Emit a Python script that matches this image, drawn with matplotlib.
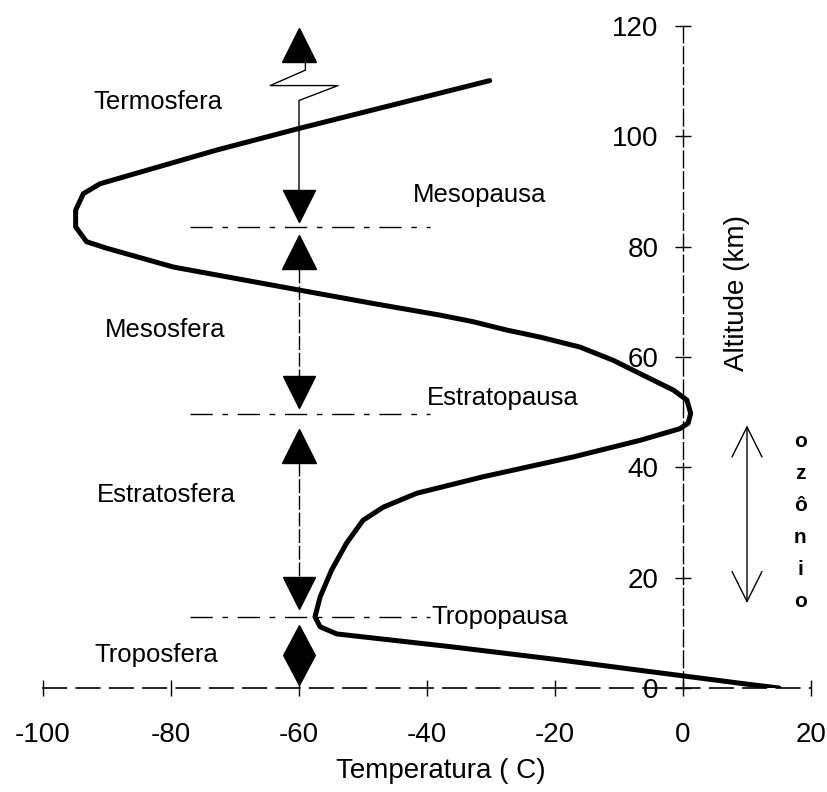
import numpy as np
import matplotlib
matplotlib.use("Agg")
import matplotlib.pyplot as plt

plt.rcParams['font.family'] = ['Liberation Sans', 'DejaVu Sans']

# ---- data: temperature profile (T in C, altitude in km) ----
temp_c = [15, 10, 0, -20, -36.4, -54.1, -56.7, -57.5, -56.7, -54.9, -52.6, -50.0,
          -46.8, -41.6, -31.2, -17.1, -6.7, -0.5, 0.8, 1.2, 0.6, -1.5, -5.7, -10.9,
          -16.1, -22.3, -27.6, -32.8, -38.0, -48.4, -59.8, -79.6, -90.0, -93.2,
          -94.9, -94.9, -93.7, -91.1, -72.9, -60.1, -30.2]
alt_km = [0, 0.7, 2.2, 5.2, 7.5, 9.8, 11.1, 12.9, 16.5, 21.4, 26.2, 30.4,
          32.8, 35.3, 38.3, 41.9, 44.9, 47.0, 48.0, 49.8, 52.2, 54.0, 56.4, 59.4,
          61.8, 63.6, 64.9, 66.4, 67.6, 69.7, 72.1, 76.3, 79.7, 80.9,
          83.6, 86.6, 89.6, 91.4, 97.5, 101.4, 110.1]

layer_names = ["Termosfera", "Mesosfera", "Estratosfera", "Troposfera"]
layer_label_alt = [106.2, 64.9, 35.0, 6.0]
pause_names = ["Mesopausa", "Estratopausa", "Tropopausa"]
pause_alt = [83.5, 49.6, 12.9]
pause_label_alt = [89.3, 52.5, 12.9]
ozone_bottom_top = [15.4, 47.6]
ozone_word = "ozônio"

x_ticks = [-100, -80, -60, -40, -20, 0, 20]
y_ticks = [0, 20, 40, 60, 80, 100, 120]

# marker altitudes on the layer-arrow at T = -60
arrow_x = -60
up_tri_alt = [116.5, 79.0, 43.8]
down_tri_alt = [87.3, 53.6, 17.2]
diamond_alt = 6.0

# ---- figure ----
fig = plt.figure(figsize=(8.28, 7.92), dpi=100)
ax = fig.add_axes([43 / 828, 104 / 792, 768 / 828, 662 / 792])
ax.set_xlim(-100, 20)
ax.set_ylim(0, 120)

for s in ['top', 'right']:
    ax.spines[s].set_visible(False)
ax.spines['left'].set_position(('data', 0))
ax.spines['left'].set_linestyle((0, (12, 3)))
ax.spines['left'].set_linewidth(1.0)
ax.spines['bottom'].set_linestyle((0, (14, 6)))
ax.spines['bottom'].set_linewidth(1.2)

ax.set_xticks(x_ticks)
ax.set_yticks(y_ticks)
ax.set_xticklabels([str(v) for v in x_ticks])
ax.set_yticklabels([str(v) for v in y_ticks])
ax.tick_params(axis='x', direction='inout', length=11, width=1, pad=19, labelsize=20)
ax.tick_params(axis='y', direction='inout', length=11, width=1, pad=12, labelsize=20)

# temperature profile
ax.plot(temp_c, alt_km, color='black', lw=3.6, solid_joinstyle='round',
        solid_capstyle='round', zorder=5)

# pause dashed lines
for za in pause_alt:
    ax.plot([-77, -39.5], [za, za], color='black', lw=1.0,
            dashes=(16, 7, 4, 7), zorder=2)

# vertical dashed arrow structure
ax.plot([-59, -59, -64.5, -53.9, -60, -60],
        [113.5, 112, 109.2, 109.2, 106.5, 90.1], color='black', lw=1.0, zorder=3)
ax.plot([arrow_x, arrow_x], [76.0, 56.3], color='black', lw=1.0,
        dashes=(10, 2), zorder=3)
ax.plot([arrow_x, arrow_x], [40.9, 19.9], color='black', lw=1.0,
        dashes=(10, 2), zorder=3)
ax.plot([arrow_x] * len(up_tri_alt), up_tri_alt, linestyle='none', marker='^',
        markersize=24, color='black', zorder=4)
ax.plot([arrow_x] * len(down_tri_alt), down_tri_alt, linestyle='none', marker='v',
        markersize=23, color='black', zorder=4)
ax.plot([arrow_x], [diamond_alt], linestyle='none',
        marker=[(0, 1), (0.53, 0), (0, -1), (-0.53, 0), (0, 1)],
        markersize=43, color='black', zorder=4)

# labels
for name, za in zip(layer_names, layer_label_alt):
    xx = {"Termosfera": -92.2, "Mesosfera": -90.3,
          "Estratosfera": -91.6, "Troposfera": -91.9}[name]
    ax.text(xx, za, name, fontsize=18.5, ha='left', va='center', zorder=6)
for name, za in zip(pause_names, pause_label_alt):
    xx = {"Mesopausa": -42.2, "Estratopausa": -40.0, "Tropopausa": -39.3}[name]
    ax.text(xx, za, name, fontsize=18.5, ha='left', va='center', zorder=6)

# ozone arrow
ax.annotate('', xy=(10, ozone_bottom_top[1]), xytext=(10, ozone_bottom_top[0]),
            arrowprops=dict(arrowstyle='<->,head_length=1.08,head_width=0.54',
                            lw=1.0, color='black', shrinkA=0, shrinkB=0,
                            mutation_scale=20))
for ch, za in zip(ozone_word, np.linspace(44.6, 15.6, len(ozone_word))):
    ax.text(18.3, za, ch, fontsize=15, fontweight='bold', ha='center', va='center')

# axis titles
ax.text(8.4, 71.6, "Altitude (km)", rotation=90, fontsize=20, ha='center', va='center')
fig.text(441 / 828, 1 - 771 / 792, "Temperatura ( C)", fontsize=20,
         ha='center', va='center')

fig.savefig("out.png", dpi=100)
